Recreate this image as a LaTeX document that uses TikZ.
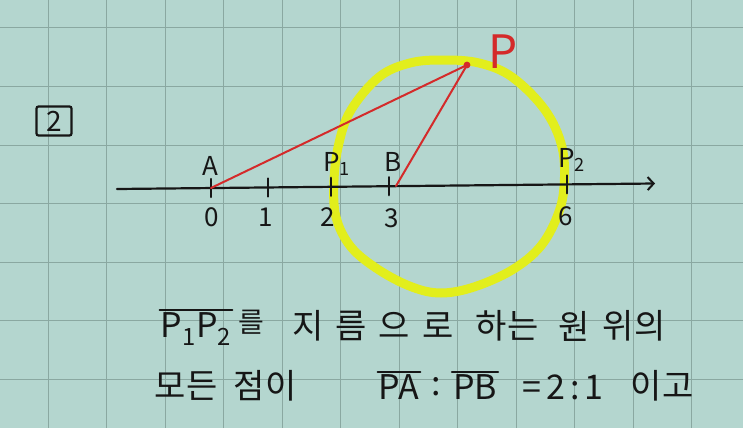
\documentclass[tikz,border=0pt]{standalone}
\usepackage{fontspec}
\setmainfont{Noto Sans CJK KR}
\usetikzlibrary{arrows.meta}
\definecolor{bg}{RGB}{180,214,207}
\definecolor{gridc}{RGB}{138,168,161}
\definecolor{hl}{RGB}{226,238,28}
\definecolor{pen}{RGB}{22,22,22}
\definecolor{redpen}{RGB}{212,42,42}
\tikzset{
  gridline/.style={gridc, line width=1pt},
  pentick/.style={pen, line width=2.2pt, line cap=round},
  redline/.style={redpen, line width=2pt, line cap=round},
  lbl/.style={text=pen, font=\fontsize{26}{30}\selectfont, inner sep=0pt},
  numlbl/.style={text=pen, font=\fontsize{26}{30}\selectfont, inner sep=0pt},
  kor/.style={text=pen, font=\fontsize{34}{40}\selectfont, inner sep=1pt},
  ovl/.style={pen, line width=2pt, line cap=round}
}
\begin{document}
\begin{tikzpicture}[x=1pt,y=-1pt]
\fill[bg] (0,0) rectangle (743,428);
\useasboundingbox (0,0) rectangle (743,428);
% grid
\foreach \i in {0,...,11} \draw[gridline] ({48+58.5*\i},0) -- ({48+58.5*\i},428);
\foreach \j in {0,...,6} \draw[gridline] (0,{28+58.5*\j}) -- (743,{28+58.5*\j});

% yellow circle
\draw[hl, line width=9pt] plot[smooth cycle, tension=0.6] coordinates {
 (443,60) (479,63) (512,77) (545,110) (562,147) (564,187) (557,217) (540,247)
 (512,270) (474,287) (441,293) (412,287) (379,270) (351,247) (336,217) (334,180)
 (339,143) (351,110) (379,77) (410,63)};

% number line
\coordinate (L) at (117,189);
\coordinate (R) at (655,183.5);
\draw[pen, line width=2.2pt, line cap=round, -{Straight Barb[length=6pt,width=13pt,line width=2pt]}] (L) -- (R);

\coordinate (A) at (211,188);
\coordinate (T1) at (268,187.5);
\coordinate (Q1) at (331,186.8);
\coordinate (B) at (389,186.2);
\coordinate (Bf) at (396,186);
\coordinate (Q2) at (567,184.4);
\coordinate (P) at (467,65);

\foreach \c in {A,T1,Q1,B,Q2} \draw[pentick] (\c) ++(0,-9) -- ++(0,18);

% red segments
\draw[redline] (A) -- (P);
\draw[redline] (Bf) -- (P);
\fill[redpen] (P) circle (3.4);
\node[text=redpen, font=\fontsize{46}{50}\selectfont, inner sep=0] (lP) at (503,52) {P};

% point labels
\node[lbl] (lA) at (210,166) {A};
\node[lbl] (lQ1) at (337,164) {P\textsubscript{1}};
\node[lbl] (lB) at (393,162) {B};
\node[lbl] (lQ2) at (572,160) {P\textsubscript{2}};

% numbers
\node[numlbl] (n0) at (212,217) {0};
\node[numlbl] (n1) at (266,217) {1};
\node[numlbl] (n2) at (328,217) {2};
\node[numlbl] (n3) at (392,218) {3};
\node[numlbl] (n6) at (566,216) {6};

% boxed number
\node[draw=pen, line width=2.2pt, rounded corners=2pt, minimum width=35pt, minimum height=29pt, inner sep=0, text=pen, font=\fontsize{28}{30}\selectfont] (num) at (54,121) {2};

% text line 1
\node[kor] (w1) at (196,329) {P\textsubscript{1}P\textsubscript{2}};
\draw[ovl] ([yshift=1pt]w1.north west) -- ([yshift=1pt]w1.north east);
\node[kor, font=\fontsize{28}{32}\selectfont] (w2) at (251,322) {를};
\node[kor] (w3) at (373,326) {지\hspace{12pt}름\hspace{12pt}으\hspace{12pt}로};
\node[kor] (w4) at (507,326) {하는};
\node[kor] (w5) at (574,326) {원};
\node[kor] (w6) at (634,326) {위의};

% text line 2
\node[kor] (v1) at (186,386) {모든};
\node[kor] (v2) at (265,386) {점이};
\node[kor] (v3) at (399,387) {PA};
\draw[ovl] ([yshift=1pt]v3.north west) -- ([yshift=1pt]v3.north east);
\node[kor] (v4) at (436,387) {:};
\node[kor] (v5) at (475,387) {PB};
\draw[ovl] ([yshift=1pt]v5.north west) -- ([yshift=1pt]v5.north east);
\node[kor] (v6) at (563,387) {=\hspace{5pt}2\hspace{5pt}:\hspace{5pt}1};
\node[kor] (v7) at (662,386) {이고};
\end{tikzpicture}
\end{document}
